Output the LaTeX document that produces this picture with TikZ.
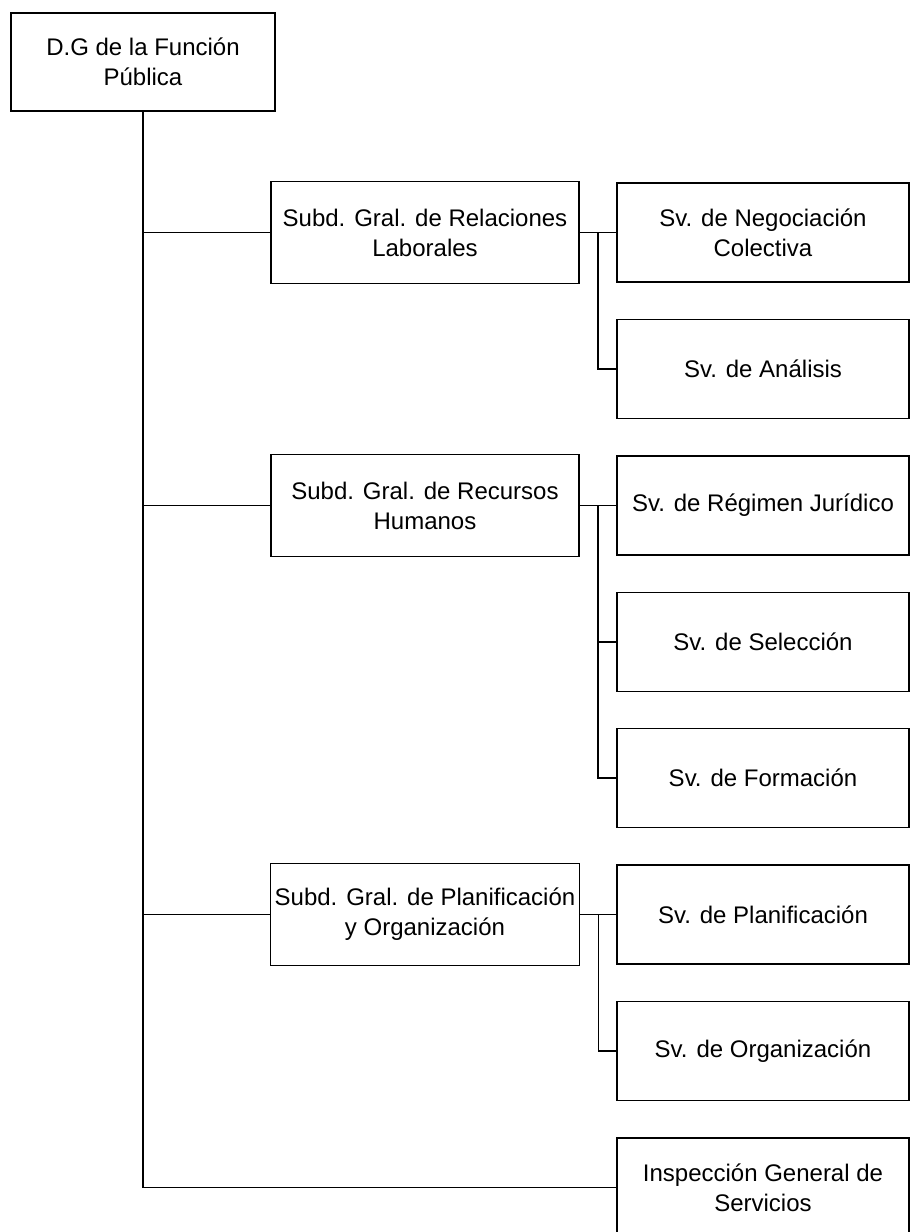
\documentclass[tikz,border=0pt]{standalone}
\usepackage{fontspec}
\setmainfont{Liberation Sans}
\usetikzlibrary{calc}

\begin{document}
\begin{tikzpicture}[x=0.5pt,y=-0.5pt,
  unit/.style={draw,line width=0.6pt,align=center,inner sep=2pt,font=\fontsize{12}{15}\selectfont},
  topbox/.style={unit,minimum width=132pt,minimum height=49pt},
  subbox/.style={unit,minimum width=154pt,minimum height=51pt},
  svbox/.style={unit,minimum width=146pt,minimum height=49.5pt},
  link/.style={line width=0.6pt}
]
\useasboundingbox (0,0) rectangle (911,1232);

\node[topbox] (dg) at (143,62) {D.G de la Función\\Pública};

\node[subbox] (rel) at (425,232.5) {Subd. Gral. de Relaciones\\Laborales};
\node[subbox] (rrhh) at (425,505.5) {Subd. Gral. de Recursos\\Humanos};
\node[subbox] (plan) at (425,914.5) {Subd. Gral. de Planificación\\y Organización};

\node[svbox] (neg) at (763,232.5) {Sv. de Negociación\\Colectiva};
\node[svbox] (ana) at (763,369) {Sv. de Análisis};
\node[svbox] (jur) at (763,505.5) {Sv. de Régimen Jurídico};
\node[svbox] (sel) at (763,642) {Sv. de Selección};
\node[svbox] (form) at (763,778) {Sv. de Formación};
\node[svbox] (svplan) at (763,914.5) {Sv. de Planificación};
\node[svbox] (svorg) at (763,1051) {Sv. de Organización};
\node[svbox] (insp) at (763,1187.5) {Inspección General de\\Servicios};

% trunk and branches
\draw[link] (dg.south) |- (insp.west);
\draw[link] (dg.south |- rel.west) -- (rel.west);
\draw[link] (dg.south |- rrhh.west) -- (rrhh.west);
\draw[link] (dg.south |- plan.west) -- (plan.west);

% second level
\coordinate (bus1) at ($(rel.east)!0.5!(neg.west)$);
\draw[link] (rel.east) -- (neg.west);
\draw[link] (bus1) |- (ana.west);

\coordinate (bus2) at ($(rrhh.east)!0.5!(jur.west)$);
\draw[link] (rrhh.east) -- (jur.west);
\draw[link] (bus2) |- (sel.west);
\draw[link] (bus2) |- (form.west);

\coordinate (bus3) at ($(plan.east)!0.5!(svplan.west)$);
\draw[link] (plan.east) -- (svplan.west);
\draw[link] (bus3) |- (svorg.west);
\end{tikzpicture}
\end{document}
